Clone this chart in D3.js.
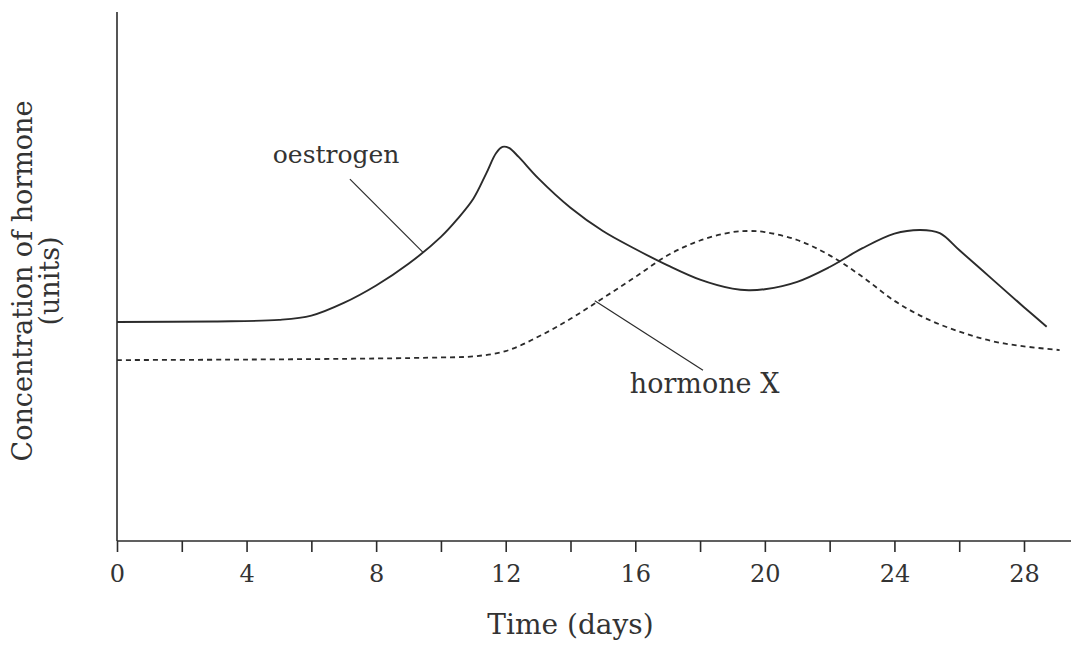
<!DOCTYPE html>
<html>
<head>
<meta charset="utf-8">
<script src="https://cdn.jsdelivr.net/npm/d3@7"></script>
<style>
  html, body { margin: 0; padding: 0; background: #fff; }
  svg { display: block; }
  text { font-family: "DejaVu Serif", "Liberation Serif", serif; fill: #333; }
</style>
</head>
<body>
<svg id="chart" width="1071" height="657"></svg>
<script>
// ---- data ----
const oestrogenDays   = [0, 3, 5, 6, 7, 8, 9, 10, 10.5, 11, 11.4, 11.7, 11.9, 12.1, 12.4, 13, 14, 15, 16, 17, 18, 19, 19.5, 20, 21, 22, 23, 24, 24.8, 25.4, 26, 27, 28, 28.7];
const oestrogenValues = [41.4, 41.5, 41.8, 42.6, 45.0, 48.3, 52.4, 57.5, 60.8, 64.7, 69.5, 73.3, 74.5, 74.3, 72.6, 68.6, 63.0, 58.6, 55.2, 52.1, 49.4, 47.7, 47.4, 47.6, 49.0, 51.8, 55.3, 58.1, 58.8, 58.2, 55.0, 49.6, 44.2, 40.5];
const hormoneXDays    = [0, 4, 8, 10, 11, 12, 13, 14, 15, 16, 17, 18, 19, 19.5, 20, 21, 22, 23, 24, 25, 26, 27, 28, 29.1];
const hormoneXValues  = [34.2, 34.3, 34.5, 34.7, 34.9, 35.9, 38.6, 42.0, 45.9, 49.9, 54.0, 56.8, 58.4, 58.6, 58.4, 56.9, 54.0, 50.0, 45.4, 42.0, 39.6, 37.8, 36.8, 36.1];
const xTickValues     = [0, 2, 4, 6, 8, 10, 12, 14, 16, 18, 20, 22, 24, 26, 28];
const xTickLabels     = ["0", "", "4", "", "8", "", "12", "", "16", "", "20", "", "24", "", "28"];
const xTitle = "Time (days)";
const yTitle = ["Concentration of hormone", "(units)"];
const labelNames = ["oestrogen", "hormone X"];
// annotation anchors in data units: [labelDay, labelValue, lineStartDay, lineStartValue, lineEndDay, lineEndValue]
const oestrogenNote = [4.81, 71.5, 7.19, 68.4, 9.44, 54.6];
const hormoneXNote  = [15.83, 28.0, 14.75, 45.4, 18.09, 32.3];

// ---- scales ----
const svg = d3.select("#chart");
const x = d3.scaleLinear().domain([0, 28]).range([117, 1024]);
const xEnd = x.invert(1071);
const y = d3.scaleLinear().domain([0, 100]).range([541, 12]);
const ink = "#2b2b2b";

// axes
const xAxis = d3.axisBottom(x).tickValues(xTickValues)
  .tickFormat((d, i) => xTickLabels[i]).tickSizeInner(11).tickSizeOuter(0).tickPadding(13);
const gx = svg.append("g").attr("transform", `translate(0,${y(0)})`).call(xAxis);
gx.select(".domain").remove();
gx.append("line").attr("x1", x(0)).attr("x2", x(xEnd)).attr("y1", 0).attr("y2", 0)
  .attr("stroke", ink).attr("stroke-width", 1.6);
gx.selectAll(".tick line").attr("stroke", ink).attr("stroke-width", 1.6);
gx.selectAll(".tick text").attr("fill", "#333").style("font-size", "24px")
  .style("font-family", '"DejaVu Serif", serif');

svg.append("line").attr("x1", x(0)).attr("x2", x(0)).attr("y1", y(0)).attr("y2", y(100))
  .attr("stroke", ink).attr("stroke-width", 1.6);

// titles
svg.append("text").attr("x", x(14)).attr("y", 634).attr("text-anchor", "middle")
  .style("font-size", "28px").text(xTitle);
const ty = svg.append("g").attr("transform", `translate(0,281) rotate(-90)`);
ty.append("text").attr("x", 0).attr("y", 32).attr("text-anchor", "middle").style("font-size", "27px").text(yTitle[0]);
ty.append("text").attr("x", 0).attr("y", 59).attr("text-anchor", "middle").style("font-size", "27px").text(yTitle[1]);

// lines
const line = d3.line().x(d => x(d[0])).y(d => y(d[1])).curve(d3.curveCatmullRom.alpha(0.5));
svg.append("path").datum(hormoneXDays.map((d, i) => [d, hormoneXValues[i]]))
  .attr("d", line).attr("fill", "none").attr("stroke", ink).attr("stroke-width", 1.8)
  .attr("stroke-dasharray", "5,4");
svg.append("path").datum(oestrogenDays.map((d, i) => [d, oestrogenValues[i]]))
  .attr("d", line).attr("fill", "none").attr("stroke", ink).attr("stroke-width", 1.9);

// annotations
[[oestrogenNote, labelNames[0], 25], [hormoneXNote, labelNames[1], 27]].forEach(([n, name, fs]) => {
  svg.append("text").attr("x", x(n[0])).attr("y", y(n[1])).style("font-size", fs + "px").text(name);
  svg.append("line").attr("x1", x(n[2])).attr("y1", y(n[3])).attr("x2", x(n[4])).attr("y2", y(n[5]))
    .attr("stroke", ink).attr("stroke-width", 1.2);
});
</script>
</body>
</html>
